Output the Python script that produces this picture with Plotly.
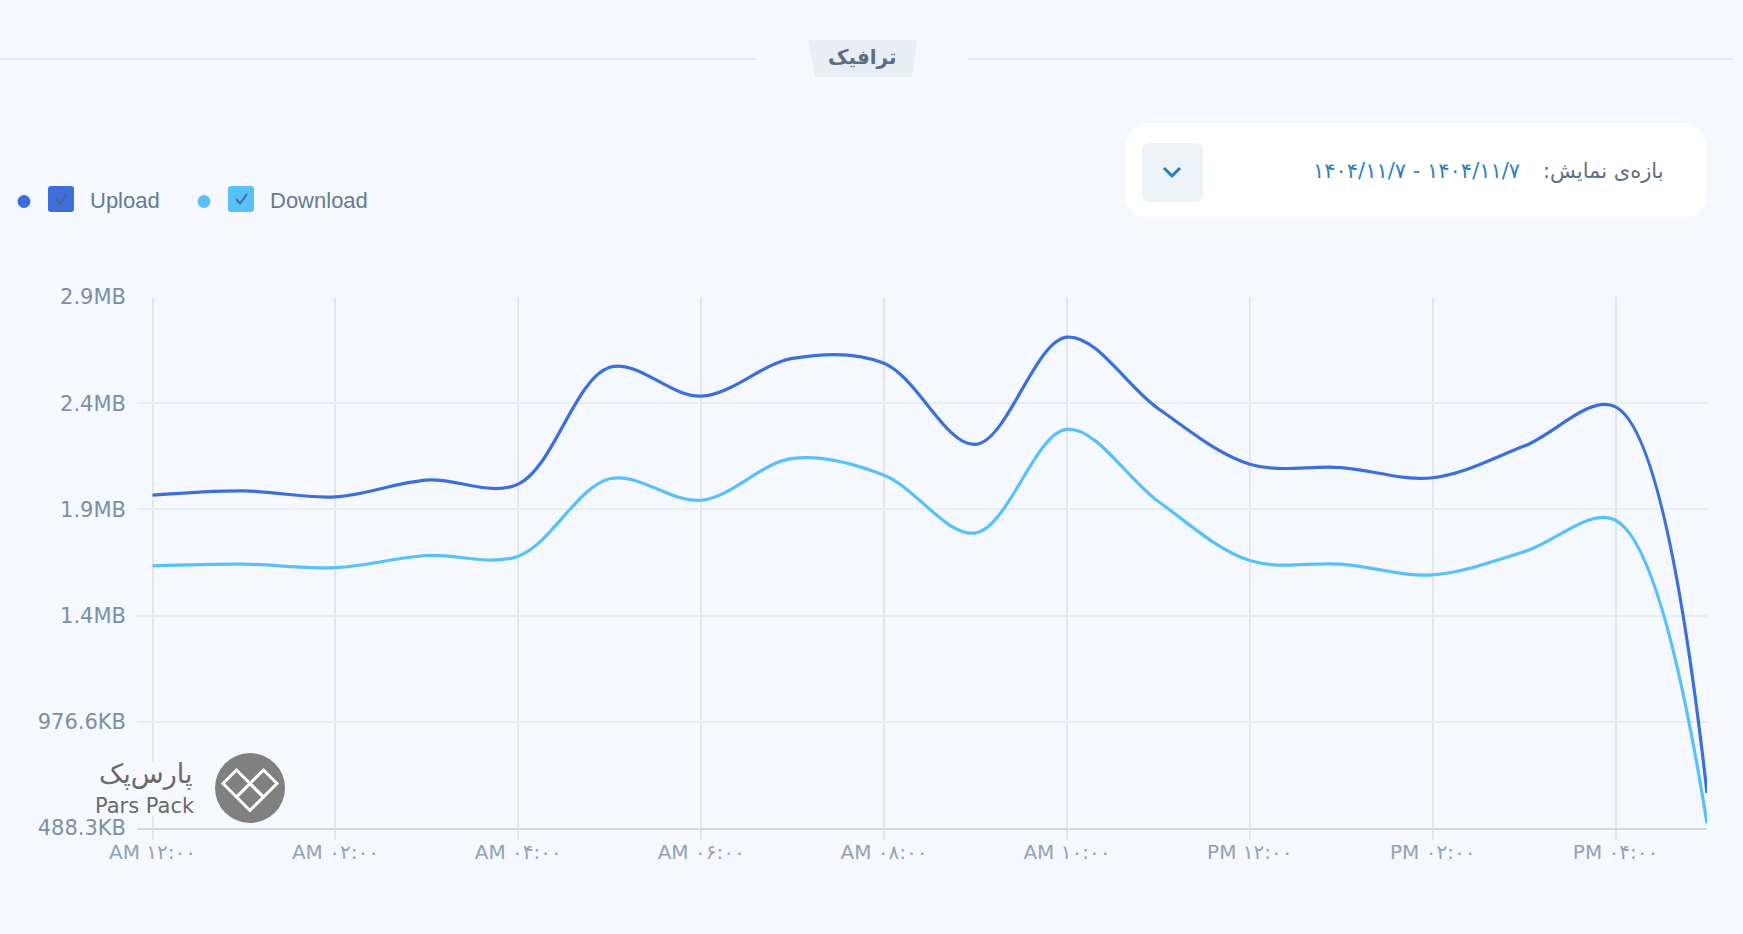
import plotly.graph_objects as go

# hourly traffic (millions of bytes)
hours = list(range(18))
upload = [2.067, 2.087, 2.059, 2.138, 2.119, 2.669, 2.533, 2.711, 2.688,
          2.306, 2.811, 2.474, 2.213, 2.197, 2.149, 2.298, 2.483, 0.665]
download = [1.734, 1.742, 1.726, 1.783, 1.780, 2.144, 2.043, 2.240, 2.161,
            1.889, 2.377, 2.037, 1.759, 1.742, 1.692, 1.801, 1.949, 0.522]

x_tickvals = [0, 2, 4, 6, 8, 10, 12, 14, 16]
x_ticktext = ["AM ۱۲:۰۰", "AM ۰۲:۰۰", "AM ۰۴:۰۰", "AM ۰۶:۰۰", "AM ۰۸:۰۰",
              "AM ۱۰:۰۰", "PM ۱۲:۰۰", "PM ۰۲:۰۰", "PM ۰۴:۰۰"]
y_tickvals = [0.5, 1.0, 1.5, 2.0, 2.5, 3.0]
y_ticktext = ["488.3KB", "976.6KB", "1.4MB", "1.9MB", "2.4MB", "2.9MB"]

UPLOAD_COLOR = "#3d6fdb"
DOWNLOAD_COLOR = "#58c1f9"
BG = "#f5f8fe"
GRID = "#e2e6ec"
FONT = "DejaVu Sans"

W, H = 1743, 934
L, R, T, B = 137, 1707, 297, 828


# pixel -> paper coords
def px(x):
    return (x - L) / (R - L)


def py(y):
    return (B - y) / (B - T)


def pt(x, y):
    return f"{px(x):.5f},{py(y):.5f}"


def rrect(x0, y0, x1, y1, r):
    return (f"M{pt(x0 + r, y0)} L{pt(x1 - r, y0)} Q{pt(x1, y0)} {pt(x1, y0 + r)} "
            f"L{pt(x1, y1 - r)} Q{pt(x1, y1)} {pt(x1 - r, y1)} "
            f"L{pt(x0 + r, y1)} Q{pt(x0, y1)} {pt(x0, y1 - r)} "
            f"L{pt(x0, y0 + r)} Q{pt(x0, y0)} {pt(x0 + r, y0)} Z")


def poly(points, close=False):
    s = "M" + " L".join(pt(x, y) for x, y in points)
    return s + (" Z" if close else "")


def path_shape(path, fill=None, line_color=None, width=0, layer="above"):
    return dict(type="path", xref="paper", yref="paper", path=path,
                fillcolor=fill or "rgba(0,0,0,0)",
                line=dict(color=line_color or "rgba(0,0,0,0)", width=width),
                layer=layer)


def text(x, y, s, size, color, anchor="center", family=FONT):
    return dict(x=px(x), y=py(y), xref="paper", yref="paper", text=s,
                showarrow=False, xanchor=anchor, yanchor="middle",
                font=dict(family=family, size=size, color=color))


fig = go.Figure()
fig.add_trace(go.Scatter(x=hours, y=upload, mode="lines", name="Upload",
                         line=dict(color=UPLOAD_COLOR, width=3.2, shape="spline")))
fig.add_trace(go.Scatter(x=hours, y=download, mode="lines", name="Download",
                         line=dict(color=DOWNLOAD_COLOR, width=3.2, shape="spline")))

shapes = []
annotations = []

# title tab and separator lines
shapes.append(path_shape(poly([(0, 59), (756, 59)]), line_color="#e4e9f0", width=2))
shapes.append(path_shape(poly([(968, 59), (1734, 59)]), line_color="#e4e9f0", width=2))
shapes.append(path_shape(poly([(808, 40), (917, 40), (912, 77), (815, 77)], True),
                         fill="#e9eef5"))
annotations.append(text(862, 57, "<b>ترافیک</b>", 20, "#5a6e82"))

# date range box
shapes.append(path_shape(rrect(1125, 124, 1707, 218, 26), fill="#ffffff"))
shapes.append(path_shape(rrect(1142, 143, 1203, 202, 8), fill="#edf2f7"))
shapes.append(path_shape(poly([(1164, 168), (1172, 176), (1180, 168)]),
                         line_color="#2b7bbf", width=3))
annotations.append(text(1666, 171, "بازه‌ی نمایش:\u200f", 21, "#5f6f80", "right"))
annotations.append(text(1522, 171, "۱۴۰۴/۱۱/۷ - ۱۴۰۴/۱۱/۷", 21, "#2d7fc1", "right"))

# custom legend
for (x0, color, name) in [(24, UPLOAD_COLOR, "Upload"), (204, DOWNLOAD_COLOR, "Download")]:
    shapes.append(dict(type="circle", xref="paper", yref="paper",
                       x0=px(x0 - 6.5), x1=px(x0 + 6.5), y0=py(208), y1=py(195),
                       fillcolor=color, line=dict(width=0)))
    cx = x0 + 24
    shapes.append(path_shape(rrect(cx, 186, cx + 26, 212, 3), fill=color))
    shapes.append(path_shape(poly([(cx + 8, 199), (cx + 12, 203.5), (cx + 19, 194)]),
                             line_color="#45678c", width=2))
    annotations.append(text(cx + 40, 200, name, 22, "#667b8f", "left", "Liberation Sans"))

# watermark logo
shapes.append(path_shape(poly([(90, 762), (200, 762), (200, 816), (90, 816)], True), fill=BG))
shapes.append(dict(type="circle", xref="paper", yref="paper",
                   x0=px(215), x1=px(285), y0=py(823), y1=py(753),
                   fillcolor="#808080", line=dict(width=0), layer="above"))
d = 13.5
for (cx, cy) in [(236.5, 783.5), (263.5, 783.5), (250, 797)]:
    shapes.append(path_shape(poly([(cx - d, cy), (cx, cy - d), (cx + d, cy), (cx, cy + d)], True),
                             line_color="#ffffff", width=3))
annotations.append(text(145, 774, "پارس‌پک", 27, "#6a6a6a"))
annotations.append(text(145, 806, "Pars Pack", 21, "#6a6a6a"))

fig.update_layout(
    width=W, height=H,
    margin=dict(l=L, r=W - R, t=T, b=H - B),
    paper_bgcolor=BG, plot_bgcolor=BG,
    showlegend=False,
    shapes=shapes, annotations=annotations,
    font=dict(family=FONT),
)
fig.update_xaxes(range=[-0.17, 17], tickvals=x_tickvals, ticktext=x_ticktext,
                 showgrid=True, gridcolor=GRID, gridwidth=1.5, zeroline=False,
                 ticks="outside", ticklen=10, tickcolor=GRID, tickwidth=1.5,
                 showline=True, linecolor="#d3d8de", linewidth=2,
                 ticklabelstandoff=-5,
                 tickfont=dict(family=FONT, size=20, color="#91a3b5"))
fig.update_yaxes(range=[0.5, 3.0], tickvals=y_tickvals, ticktext=y_ticktext,
                 showgrid=True, gridcolor="#e8ebf0", gridwidth=1.5, zeroline=False,
                 ticklabelstandoff=10,
                 tickfont=dict(family=FONT, size=21, color="#7d8fa2"))

fig.write_html("out.html", config={"displayModeBar": False},
               post_script="document.body.style.margin='0';")
